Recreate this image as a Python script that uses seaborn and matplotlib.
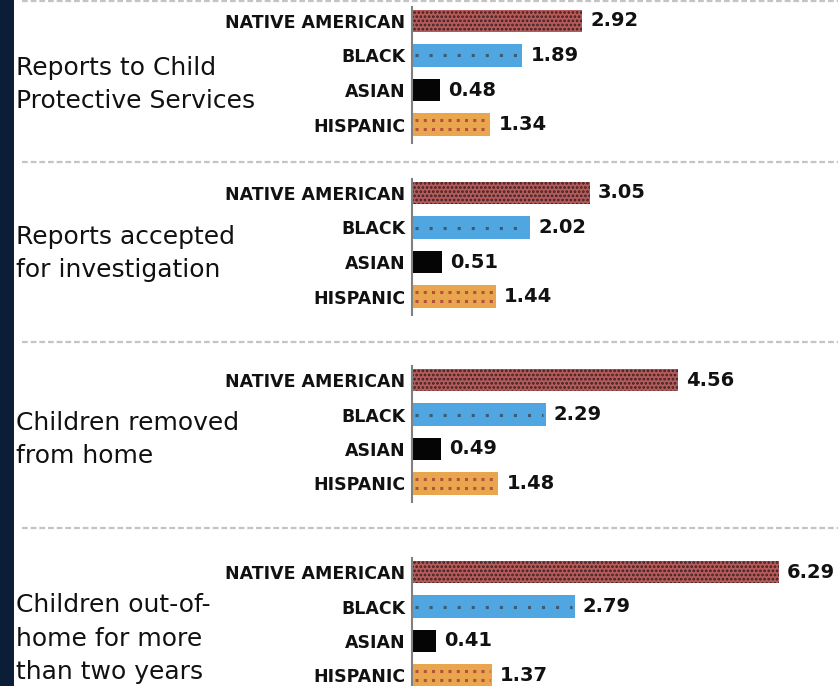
import matplotlib
matplotlib.use("Agg")
import matplotlib.pyplot as plt
import matplotlib.transforms as mtransforms
from matplotlib.patches import Rectangle
import seaborn as sns
import pandas as pd

sns.set_theme(style="white")
plt.rcParams["font.family"] = ["DejaVu Sans"]
plt.rcParams["hatch.linewidth"] = 1.3

# ---- data -------------------------------------------------------------
races = ["NATIVE AMERICAN", "BLACK", "ASIAN", "HISPANIC"]
group_titles = [
    "Reports to Child\nProtective Services",
    "Reports accepted\nfor investigation",
    "Children removed\nfrom home",
    "Children out-of-\nhome for more\nthan two years",
]
reports_to_cps = [2.92, 1.89, 0.48, 1.34]
reports_accepted = [3.05, 2.02, 0.51, 1.44]
children_removed = [4.56, 2.29, 0.49, 1.48]
out_of_home_2yrs = [6.29, 2.79, 0.41, 1.37]
group_values = [reports_to_cps, reports_accepted, children_removed, out_of_home_2yrs]

race_colors = ["#b65b5b", "#4fa6e0", "#050505", "#eaa64e"]
hatch_colors = ["#3b2020", "#4fa6e0", "#050505", "#eaa64e"]
hatches = ["....", "", "", ""]
# dotted stripes laid along the bars: (offsets across bar height, colour, dash pattern)
stripes = [None,
           ([0.0], "#3e5a70", (0, (1, 3.6))),
           None,
           ([-0.22, 0.22], "#b4503e", (0, (1, 1.7)))]

# ---- layout (pixels) --------------------------------------------------
W, H = 838, 686
fig = plt.figure(figsize=(W / 100, H / 100), dpi=100)

row_pitch = 34.5
first_row_px = [21, 193, 380, 572]
title_row = [1.84, 1.76, 1.72, 1.94]
sep_px = [1, 162, 342, 528]
axis_x_px = 412
px_per_unit = 58.3
y_top, y_bot = -0.40, 3.54

# dark band on the left edge
fig.patches.append(Rectangle((0, 0), 14 / W, 1, transform=fig.transFigure,
                             facecolor="#0c1e37", edgecolor="none", zorder=0))

for c0, vals, title, trow in zip(first_row_px, group_values, group_titles, title_row):
    top_px = c0 + y_top * row_pitch
    bot_px = c0 + y_bot * row_pitch
    ax = fig.add_axes([axis_x_px / W, 1 - bot_px / H,
                       (W - axis_x_px) / W, (bot_px - top_px) / H])
    df = pd.DataFrame({"race": races, "value": vals})
    sns.barplot(data=df, x="value", y="race", hue="race", order=races,
                hue_order=races, palette=race_colors, orient="h",
                width=0.64, ax=ax, legend=False, saturation=1)
    for patch, hc, ht, st in zip(ax.patches, hatch_colors, hatches, stripes):
        patch.set_hatch(ht)
        patch.set_edgecolor(hc)
        patch.set_linewidth(0)
        if st is not None:
            offs, col, dash = st
            yc = patch.get_y() + patch.get_height() / 2
            x0, x1 = patch.get_x(), patch.get_x() + patch.get_width()
            for o in offs:
                ax.plot([x0 + 0.06, x1 - 0.04], [yc + o * patch.get_height()] * 2,
                        color=col, linewidth=2.2, linestyle=dash,
                        solid_capstyle="butt", dash_capstyle="butt", zorder=3)
    for cont in ax.containers:
        ax.bar_label(cont, fmt="%.2f", padding=6, fontsize=14,
                     fontweight="bold", color="#111111")
    ax.set_xlim(0, (W - axis_x_px) / px_per_unit)
    ax.set_ylim(y_bot, y_top)
    ax.set_xlabel("")
    ax.set_ylabel("")
    ax.set_xticks([])
    ax.tick_params(axis="y", length=0, pad=5)
    for lab in ax.get_yticklabels():
        lab.set_fontweight("bold")
        lab.set_fontsize(12.5)
        lab.set_color("#111111")
    for s in ["top", "right", "bottom"]:
        ax.spines[s].set_visible(False)
    ax.spines["left"].set_color("#808080")
    ax.spines["left"].set_linewidth(1.5)
    ax.spines["left"].set_zorder(4)
    ax.patch.set_alpha(0)

    tr = mtransforms.blended_transform_factory(fig.transFigure, ax.transData)
    ax.text(16 / W, trow, title, transform=tr, ha="left", va="center",
            fontsize=18, color="#111111", linespacing=1.5, clip_on=False)

# dashed separators between groups
for sp in sep_px:
    fig.add_artist(plt.Line2D([22 / W, 1], [1 - sp / H, 1 - sp / H],
                              transform=fig.transFigure, color="#c4c4c4",
                              linewidth=1.6, linestyle=(0, (2.6, 1.3))))

fig.savefig("out.png", dpi=100)
